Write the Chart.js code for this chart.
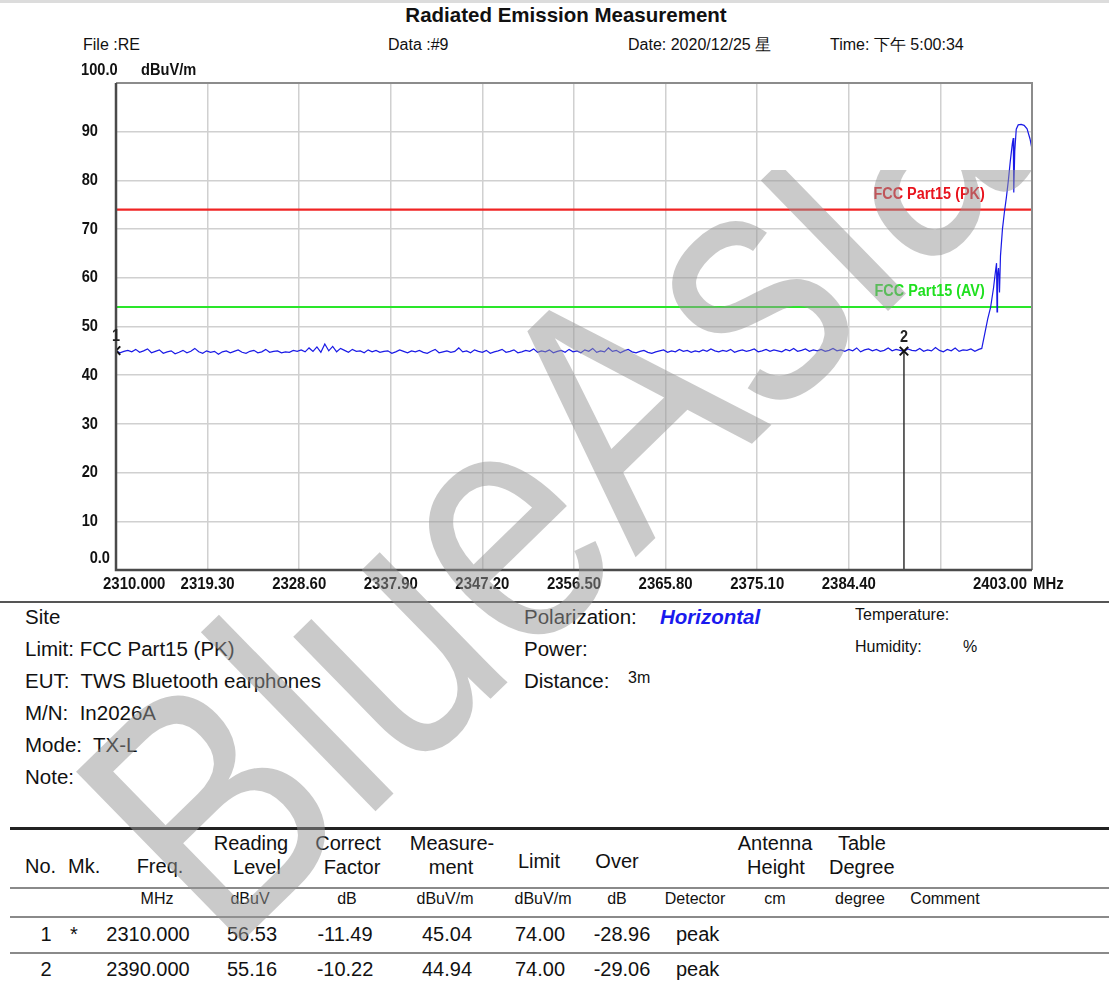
<!DOCTYPE html>
<html>
<head>
<meta charset="utf-8">
<script src="https://cdn.jsdelivr.net/npm/chart.js@4.4.1/dist/chart.umd.min.js"></script>
<style>
  body { margin: 0; background: #fff; }
  #page { position: relative; width: 1109px; height: 986px; overflow: hidden; font-family: "Liberation Sans", Arial, sans-serif; color: #111; }
  .t { position: absolute; white-space: nowrap; line-height: 22px; font-size: 20.5px; }
  .c { transform: translateX(-50%); }
  .s { font-size: 16px; line-height: 18px; }
  .h { font-size: 20px; }
  .rule { position: absolute; left: 10px; width: 1099px; }
  #chartBox { position: absolute; left: 0; top: 60px; }
  #wmClip { position: absolute; left: 0; top: 170px; width: 1109px; height: 816px; overflow: hidden; pointer-events: none; }
  #wm { position: absolute; left: 225px; top: 788px; transform: rotate(-44.3deg) scaleX(0.83); transform-origin: 0 0; }
  #wm span { position: absolute; left: 0; top: -292px; font: 345px/345px "Liberation Sans", Arial, sans-serif; color: rgba(150,150,150,0.5); white-space: nowrap; }
</style>
</head>
<body>
<div id="page">
  <div style="position:absolute;left:0;top:0;width:1109px;height:3px;background:#dcdcdc"></div>
  <div class="t c" style="left:566px;top:4px;font-size:20.5px;font-weight:bold">Radiated Emission Measurement</div>

  <div class="t" style="left:83px;top:34px;font-size:16px">File :RE</div>
  <div class="t" style="left:388px;top:34px;font-size:16px">Data :#9</div>
  <div class="t" style="left:628px;top:34px;font-size:16px">Date: 2020/12/25 星</div>
  <div class="t" style="left:830px;top:34px;font-size:16px">Time: 下午 5:00:34</div>

  <div id="chartBox"><canvas id="emChart" width="1109" height="540"></canvas></div>

  <div class="rule" style="left:0;width:1109px;top:601px;height:2px;background:#555"></div>

  <div class="t" style="left:25px;top:606px">Site</div>
  <div class="t" style="left:25px;top:638px">Limit: FCC Part15 (PK)</div>
  <div class="t" style="left:25px;top:670px">EUT:&nbsp; TWS Bluetooth earphones</div>
  <div class="t" style="left:25px;top:702px">M/N:&nbsp; In2026A</div>
  <div class="t" style="left:25px;top:734px">Mode:&nbsp; TX-L</div>
  <div class="t" style="left:25px;top:766px">Note:</div>

  <div class="t" style="left:524px;top:606px">Polarization:</div>
  <div class="t" style="left:660px;top:606px;color:#1a1aee;font-weight:bold;font-style:italic">Horizontal</div>
  <div class="t" style="left:524px;top:638px">Power:</div>
  <div class="t" style="left:524px;top:670px">Distance:</div>
  <div class="t s" style="left:628px;top:669px">3m</div>
  <div class="t s" style="left:855px;top:606px">Temperature:</div>
  <div class="t s" style="left:855px;top:638px">Humidity:</div>
  <div class="t s" style="left:963px;top:638px">%</div>

  <div class="rule" style="top:827px;height:2.5px;background:#222"></div>
  <div class="t h" style="left:25px;top:855px">No.</div>
  <div class="t h" style="left:68px;top:855px">Mk.</div>
  <div class="t h c" style="left:160px;top:855px">Freq.</div>
  <div class="t h c" style="left:251px;top:832px">Reading</div>
  <div class="t h c" style="left:257px;top:856px">Level</div>
  <div class="t h c" style="left:348px;top:832px">Correct</div>
  <div class="t h c" style="left:352px;top:856px">Factor</div>
  <div class="t h c" style="left:452px;top:832px">Measure-</div>
  <div class="t h c" style="left:451px;top:856px">ment</div>
  <div class="t h c" style="left:539px;top:850px">Limit</div>
  <div class="t h c" style="left:617px;top:850px">Over</div>
  <div class="t h c" style="left:775px;top:832px">Antenna</div>
  <div class="t h c" style="left:776px;top:856px">Height</div>
  <div class="t h" style="left:838px;top:832px">Table</div>
  <div class="t h" style="left:829px;top:856px">Degree</div>

  <div class="rule" style="top:887px;height:1.5px;background:#8a8a8a"></div>
  <div class="t s c" style="left:157px;top:890px">MHz</div>
  <div class="t s c" style="left:250px;top:890px">dBuV</div>
  <div class="t s c" style="left:347px;top:890px">dB</div>
  <div class="t s c" style="left:445px;top:890px">dBuV/m</div>
  <div class="t s c" style="left:543px;top:890px">dBuV/m</div>
  <div class="t s c" style="left:617px;top:890px">dB</div>
  <div class="t s c" style="left:695px;top:890px">Detector</div>
  <div class="t s c" style="left:775px;top:890px">cm</div>
  <div class="t s c" style="left:860px;top:890px">degree</div>
  <div class="t s c" style="left:945px;top:890px">Comment</div>
  <div class="rule" style="top:916px;height:1.5px;background:#8a8a8a"></div>

  <div id="rows"></div>
  <div class="rule" style="top:952px;height:1.5px;background:#8a8a8a"></div>

  <div id="wmClip"><div id="wm"><span>BlueAsia</span></div></div>
</div>

<script>
// axis ticks
const xTicks = [2310, 2319.3, 2328.6, 2337.9, 2347.2, 2356.5, 2365.8, 2375.1, 2384.4, 2393.7, 2403];
const xTickLabels = ["2310.000", "2319.30", "2328.60", "2337.90", "2347.20", "2356.50", "2365.80", "2375.10", "2384.40", "", "2403.00"];
const yTicks = [0, 10, 20, 30, 40, 50, 60, 70, 80, 90, 100];
const yTickLabels = ["0.0", "10", "20", "30", "40", "50", "60", "70", "80", "90", "100.0"];

// flat noise floor sweep, 0.4 MHz per point from 2310 MHz
const noiseStart = 2310;
const noiseStep = 0.4;
const noiseLevels = [
  45.0, 44.6, 44.9, 45.1, 44.8, 45.3, 44.7, 45.0, 45.4, 44.6, 44.9, 45.2, 44.5, 44.8, 45.0, 44.4, 44.7, 45.1, 44.6, 44.9,
  45.5, 44.8, 44.5, 45.0, 44.7, 44.9, 44.3, 44.8, 45.0, 44.6, 44.9, 45.2, 44.7, 44.5, 44.9, 45.1, 44.6, 44.8, 45.3, 44.7,
  44.9, 45.0, 44.6, 44.8, 44.7, 45.1, 44.9, 45.2, 44.8, 45.6, 44.9, 45.8, 44.7, 46.4, 45.0, 45.9, 44.8, 45.5, 45.1, 44.7,
  45.3, 44.9, 45.0, 44.6, 45.2, 44.8, 45.1, 44.7, 44.9, 45.0, 44.5, 44.8, 45.2, 44.9, 44.6, 45.0, 44.8, 45.1, 44.7, 44.5,
  44.9, 45.3, 44.6, 44.8, 45.0, 44.7, 44.9, 45.6, 44.8, 45.0, 44.6, 45.2, 44.9, 44.7, 45.1, 44.5, 44.8, 45.0, 45.3, 44.7,
  44.9, 45.2, 44.6, 44.8, 45.1, 44.9, 45.4, 44.7, 45.0, 44.8, 45.2, 44.6, 44.9, 45.1, 44.7, 45.3, 44.8, 45.0, 44.6, 45.2,
  44.9, 45.5, 44.7, 45.0, 44.8, 45.6, 44.9, 45.1, 44.6, 45.0, 45.3, 44.8, 44.6, 44.9, 45.1, 44.7, 44.5, 44.8, 45.0, 45.2,
  44.7, 45.0, 44.8, 45.3, 44.9, 45.1, 44.7, 45.0, 44.8, 45.2, 44.9, 45.4, 45.0, 44.8, 45.1, 44.9, 45.3, 44.7, 45.0, 45.2,
  44.9, 45.1, 45.4, 44.8, 45.0, 45.3, 44.9, 45.2, 45.0, 44.8, 45.3, 45.0, 45.5, 44.9, 45.1, 45.4, 44.9, 45.2, 45.0, 45.3,
  44.9, 45.1, 45.5, 45.0, 45.2, 44.9, 45.3, 45.0, 45.6, 44.8, 45.2, 45.4, 45.0, 45.3, 44.9, 45.1, 45.6, 45.0, 45.3, 45.1,
  44.9, 45.4, 45.1, 45.0, 45.5, 44.9, 45.2, 45.0, 45.7, 45.1, 44.8, 45.3, 45.0, 45.6, 44.9, 45.2, 45.1, 45.4, 44.9, 45.3
];

// band edge rise into the 2.4 GHz carrier
const riseFreqs = [2397.9, 2398.2, 2398.5, 2398.8, 2399.1, 2399.3, 2399.4, 2399.45, 2399.5, 2399.6, 2399.7, 2399.8,
  2400.0, 2400.2, 2400.4, 2400.6, 2400.8, 2401.0, 2401.1, 2401.15, 2401.25, 2401.4, 2401.6, 2401.9, 2402.2, 2402.5, 2402.8, 2403.0];
const riseLevels = [45.5, 48.5, 51.5, 54.0, 58.0, 61.5, 63.0, 53.0, 60.5, 62.0, 57.0, 64.5,
  70.0, 73.5, 76.5, 80.0, 84.0, 87.5, 88.7, 77.5, 86.0, 90.5, 91.4, 91.5, 91.3, 90.6, 88.5, 86.4];

// limits
const limitPK = 74;
const limitAV = 54;
const limitNames = ["FCC Part15 (PK)", "FCC Part15 (AV)"];

// markers
const markerFreqs = [2310, 2390];
const markerLevels = [45.04, 44.94];
const markerNames = ["1", "2"];

// table rows
const tableRows = [
  ["1", "*", "2310.000", "56.53", "-11.49", "45.04", "74.00", "-28.96", "peak"],
  ["2", "", "2390.000", "55.16", "-10.22", "44.94", "74.00", "-29.06", "peak"]
];

const traceData = noiseLevels.map((v, i) => ({ x: noiseStart + i * noiseStep, y: v }))
  .concat(riseFreqs.map((f, i) => ({ x: f, y: riseLevels[i] })));

// condensed text, the plot labels are a tall narrow bold face
function narrowText(ctx, text, x, y, align, sx) {
  ctx.save();
  ctx.translate(x, y);
  ctx.scale(sx, 1);
  ctx.textAlign = align;
  ctx.fillText(text, 0, 0);
  ctx.restore();
}

const labelPlugin = {
  id: "labels",
  afterDraw(chart) {
    const ctx = chart.ctx;
    const xs = chart.scales.x, ys = chart.scales.y;
    const a = chart.chartArea;
    ctx.save();
    // frame
    ctx.strokeStyle = "#8c8c8c";
    ctx.lineWidth = 2;
    ctx.beginPath();
    ctx.moveTo(a.left, a.top); ctx.lineTo(a.right, a.top); ctx.lineTo(a.right, a.bottom);
    ctx.stroke();
    ctx.strokeStyle = "#4a4a4a";
    ctx.lineWidth = 2.5;
    ctx.beginPath();
    ctx.moveTo(a.left, a.top); ctx.lineTo(a.left, a.bottom); ctx.lineTo(a.right, a.bottom);
    ctx.stroke();

    // y tick labels
    ctx.fillStyle = "#111";
    ctx.font = "bold 17px 'Liberation Sans', Arial, sans-serif";
    ctx.textBaseline = "middle";
    yTicks.forEach((v, i) => {
      const y = ys.getPixelForValue(v);
      if (v === 0) {
        narrowText(ctx, yTickLabels[i], 110, y - 12, "right", 0.86);
      } else if (v === 100) {
        narrowText(ctx, yTickLabels[i], 81, y - 13, "left", 0.86);
        narrowText(ctx, "dBuV/m", 141, y - 13, "left", 0.86);
      } else {
        narrowText(ctx, yTickLabels[i], 98, y, "right", 0.86);
      }
    });

    // x tick labels
    xTicks.forEach((v, i) => {
      const x = xs.getPixelForValue(v);
      const y = a.bottom + 14;
      if (i === 0) narrowText(ctx, xTickLabels[i], x - 13, y, "left", 0.88);
      else if (i === xTicks.length - 1) {
        narrowText(ctx, xTickLabels[i], x - 5, y, "right", 0.88);
        narrowText(ctx, "MHz", x + 1, y, "left", 0.88);
      } else narrowText(ctx, xTickLabels[i], x, y, "center", 0.88);
    });

    // limit names
    ctx.font = "bold 16px 'Liberation Sans', Arial, sans-serif";
    ctx.fillStyle = "#e8141e";
    narrowText(ctx, limitNames[0], xs.getPixelForValue(2398.2), ys.getPixelForValue(limitPK) - 15, "right", 0.9);
    ctx.fillStyle = "#1fe01f";
    narrowText(ctx, limitNames[1], xs.getPixelForValue(2398.2), ys.getPixelForValue(limitAV) - 15, "right", 0.9);

    // marker numbers
    ctx.fillStyle = "#222";
    ctx.font = "bold 16px 'Liberation Sans', Arial, sans-serif";
    markerFreqs.forEach((f, i) => {
      narrowText(ctx, markerNames[i], xs.getPixelForValue(f), ys.getPixelForValue(markerLevels[i]) - 14, "center", 0.9);
    });
    ctx.restore();
  }
};

new Chart(document.getElementById("emChart"), {
  type: "line",
  data: {
    datasets: [
      { data: markerFreqs.map((f, i) => ({ x: f, y: markerLevels[i] })), showLine: false, pointStyle: "crossRot",
        pointRadius: 6, borderColor: "#111", borderWidth: 2, order: 0 },
      { data: [{ x: markerFreqs[1], y: markerLevels[1] }, { x: markerFreqs[1], y: 0 }], borderColor: "#333",
        borderWidth: 1.5, pointRadius: 0, order: 1 },
      { data: traceData, borderColor: "#1a1ae6", borderWidth: 1.2, pointRadius: 0, tension: 0, order: 2 },
      { data: [{ x: 2310, y: limitPK }, { x: 2403, y: limitPK }], borderColor: "#f02424", borderWidth: 2.2, pointRadius: 0, order: 3 },
      { data: [{ x: 2310, y: limitAV }, { x: 2403, y: limitAV }], borderColor: "#2ae62a", borderWidth: 2.2, pointRadius: 0, order: 4 }
    ]
  },
  options: {
    responsive: false,
    animation: false,
    devicePixelRatio: 1,
    layout: { padding: { left: 0, right: 77, top: 23, bottom: 0 } },
    plugins: { legend: { display: false }, tooltip: { enabled: false } },
    scales: {
      x: {
        type: "linear", min: 2310, max: 2403,
        afterBuildTicks: s => { s.ticks = xTicks.map(v => ({ value: v })); },
        afterFit: s => { s.height = 30; },
        ticks: { display: false },
        grid: { color: "#d0d0d0", lineWidth: 1.5, drawTicks: false },
        border: { display: false }
      },
      y: {
        min: 0, max: 100,
        afterBuildTicks: s => { s.ticks = yTicks.map(v => ({ value: v })); },
        afterFit: s => { s.width = 116; },
        ticks: { display: false },
        grid: { color: "#d0d0d0", lineWidth: 1.5, drawTicks: false },
        border: { display: false }
      }
    }
  },
  plugins: [labelPlugin]
});

// data table rows
const rowCenters = [148, 252, 345, 447, 540, 622];
const rowsEl = document.getElementById("rows");
tableRows.forEach((r, k) => {
  const top = 923 + k * 35;
  let html = `<div class="t h c" style="left:46px;top:${top}px">${r[0]}</div>`;
  if (r[1]) html += `<div class="t h c" style="left:74px;top:${top}px">${r[1]}</div>`;
  rowCenters.forEach((cx, j) => {
    html += `<div class="t h c" style="left:${cx}px;top:${top}px">${r[j + 2]}</div>`;
  });
  html += `<div class="t h" style="left:676px;top:${top}px">${r[8]}</div>`;
  rowsEl.insertAdjacentHTML("beforeend", html);
});
</script>
</body>
</html>
